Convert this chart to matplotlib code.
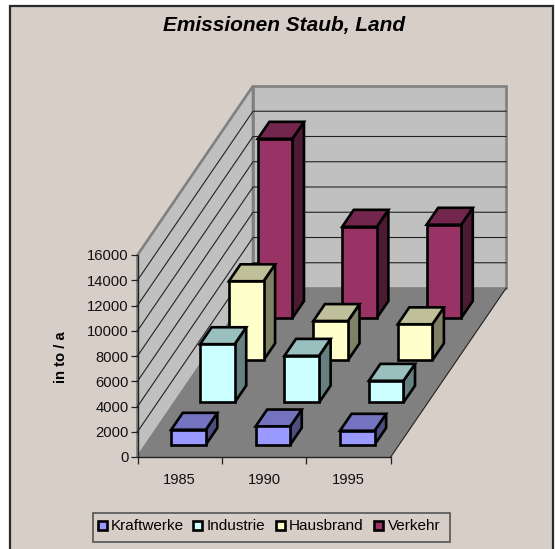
import numpy as np
import matplotlib
matplotlib.use('Agg')
import matplotlib.pyplot as plt
from matplotlib.patches import Polygon, Rectangle

plt.rcParams['font.family'] = ['Liberation Sans', 'DejaVu Sans']

years = ['1985', '1990', '1995']
series = ['Kraftwerke', 'Industrie', 'Hausbrand', 'Verkehr']
kraftwerke = [1190, 1450, 1110]
industrie = [4620, 3700, 1720]
hausbrand = [6260, 3110, 2850]
verkehr = [14200, 7230, 7390]
values = [kraftwerke, industrie, hausbrand, verkehr]
colors = ['#9999FF', '#CCFFFF', '#FFFFCC', '#993366']
yticks = list(range(0, 16001, 2000))

W, H = 555, 549
bg = '#D7CEC8'
fig = plt.figure(figsize=(W/100, H/100), dpi=100, facecolor='white')

def box(l, t, r, b):
    return [l/W, 1-b/H, (r-l)/W, (b-t)/H]

# whole figure overlay in pixels for frame, title, legend
over = fig.add_axes([0, 0, 1, 1])
over.set_xlim(0, W)
over.set_ylim(H, 0)
over.axis('off')
over.add_patch(Rectangle((10, 6), 543, 560, fc=bg, ec='#2a2a2a', lw=1.6))

# front plane of the 3d box is the axes, the depth is an offset in data units
ax = fig.add_axes(box(137.5, 255, 390.7, 457))
ax.patch.set_alpha(0)
ax.set_xlim(0, 3)
ax.set_ylim(0, 16000)
DX = 115.5/253.2*3
DY = 169/202*16000

def pr(x, d, v):
    return (x + d*DX, v + d*DY)

def poly(pts, fc, ec='black', lw=1.9, z=1):
    ax.add_patch(Polygon([pr(*p) for p in pts], closed=True, fc=fc, ec=ec, lw=lw,
                         joinstyle='miter', clip_on=False, zorder=z))

def dim(c, f):
    r = matplotlib.colors.to_rgb(c)
    return tuple(i*f for i in r)

# walls and floor
ymax = 16000
poly([(0, 0, 0), (0, 1, 0), (0, 1, ymax), (0, 0, ymax)], '#C0C0C0', '#808080', 1.9)
poly([(0, 1, 0), (3, 1, 0), (3, 1, ymax), (0, 1, ymax)], '#C0C0C0', '#808080', 1.9)
poly([(0, 0, 0), (3, 0, 0), (3, 1, 0), (0, 1, 0)], '#808080', 'none', 0)
for t in yticks[1:-1]:
    p = [pr(0, 0, t), pr(0, 1, t), pr(3, 1, t)]
    ax.plot([q[0] for q in p], [q[1] for q in p], color='#222222', lw=0.8, zorder=1.5, clip_on=False)
p = [pr(3, 1, 0), pr(3, 0, 0)]
ax.plot([q[0] for q in p], [q[1] for q in p], color='#222222', lw=0.8, zorder=1.5, clip_on=False)

# bars from back to front
bw = 0.41
bd = 0.4/4
for s in range(3, -1, -1):
    d0 = (s + 0.29)/4
    d1 = d0 + bd
    for i in range(3):
        v = values[s][i]
        x0 = i + 0.30
        x1 = x0 + bw
        poly([(x1, d0, 0), (x1, d1, 0), (x1, d1, v), (x1, d0, v)], dim(colors[s], 0.5), z=2+(3-s)+i*0.01)
        poly([(x0, d0, v), (x1, d0, v), (x1, d1, v), (x0, d1, v)], dim(colors[s], 0.75), z=2+(3-s)+i*0.01)
        poly([(x0, d0, 0), (x1, d0, 0), (x1, d0, v), (x0, d0, v)], colors[s], z=2+(3-s)+i*0.01)

ax.set_xticks([0, 1, 2, 3])
ax.set_xticklabels([])
ax.set_xticks([0.5, 1.5, 2.5], labels=years, minor=True)
ax.tick_params(axis='x', which='minor', length=0, labelsize=10.6, pad=11.5, labelcolor='#111111')
ax.tick_params(axis='x', which='major', length=5, width=0.9, color='#222222')
ax.set_yticks(yticks)
ax.tick_params(axis='y', length=5, width=0.9, labelsize=10.6, pad=1.5, color='#222222', labelcolor='#111111')
for k in ['top', 'right']:
    ax.spines[k].set_visible(False)
for k in ['left', 'bottom']:
    ax.spines[k].set_zorder(1.6)
    ax.spines[k].set_linewidth(1.0)
    ax.spines[k].set_color('#222222')
ax.set_ylabel('in to / a', fontsize=10.6, fontweight='bold')
ax.yaxis.set_label_coords((68-137.5)/253.2, (457-357)/202)

over.text(284, 25, 'Emissionen Staub, Land', ha='center', va='center', fontsize=15,
          fontweight='bold', fontstyle='italic')

# legend
over.add_patch(Rectangle((92.5, 512.5), 357, 29, fc=bg, ec='#555555', lw=1.2))
lx = [97.5, 193, 275.5, 374]
for i, name in enumerate(series):
    over.add_patch(Rectangle((lx[i], 521), 9, 9, fc=colors[i], ec='black', lw=1.9))
    over.text(lx[i]+13.5, 526.5, name, va='center', ha='left', fontsize=11)

fig.savefig('out.png', dpi=100, facecolor='white')
